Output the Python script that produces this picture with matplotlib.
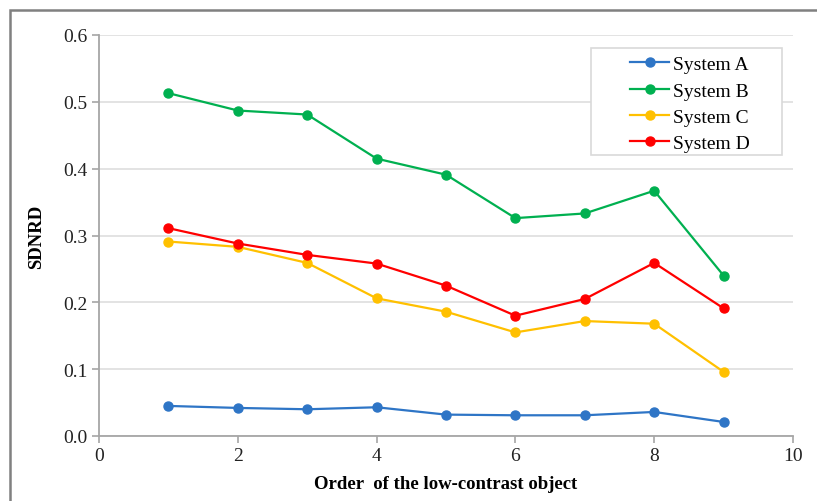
import numpy as np
import matplotlib.pyplot as plt
from matplotlib.patches import Rectangle

plt.rcParams['font.family'] = ['Liberation Serif', 'DejaVu Serif']

# data
order = [1, 2, 3, 4, 5, 6, 7, 8, 9]
system_a = [0.045, 0.042, 0.040, 0.043, 0.032, 0.031, 0.031, 0.036, 0.021]
system_b = [0.513, 0.487, 0.481, 0.415, 0.391, 0.326, 0.333, 0.367, 0.240]
system_c = [0.291, 0.283, 0.259, 0.206, 0.186, 0.155, 0.172, 0.168, 0.096]
system_d = [0.311, 0.288, 0.271, 0.258, 0.225, 0.180, 0.205, 0.259, 0.191]

labels = ['System A', 'System B', 'System C', 'System D']
colors = ['#2E75C6', '#00B050', '#FFC000', '#FF0000']

fig = plt.figure(figsize=(8.17, 5.02), dpi=100)
ax = fig.add_axes([99 / 817, 1 - 437 / 502, 694 / 817, 401 / 502])

for y, lab, c in zip([system_a, system_b, system_c, system_d], labels, colors):
    ax.plot(order, y, color=c, marker='o', markersize=6.5, linewidth=1.6, label=lab)

ax.set_xlim(0, 10)
ax.set_ylim(0, 0.6)
ax.set_xticks(np.arange(0, 11, 2))
ax.set_yticks(np.arange(0, 0.61, 0.1))
ax.set_yticklabels(['%.1f' % v for v in np.arange(0, 0.61, 0.1)])
ax.tick_params(labelsize=14, colors='#222222', length=5, color='#a6a6a6', width=1.2)
ax.tick_params(axis='x', pad=3)
ax.grid(axis='y', color='#e0e0e0', linewidth=1.3)
ax.set_axisbelow(True)
for s in ['top', 'right']:
    ax.spines[s].set_visible(False)
for s in ['left', 'bottom']:
    ax.spines[s].set_color('#a6a6a6')
    ax.spines[s].set_linewidth(1.3)

ax.set_xlabel('Order  of the low-contrast object', fontsize=13.5, fontweight='bold', labelpad=8)
ax.set_ylabel('SDNRD', fontsize=13.5, fontweight='bold', labelpad=13)

# legend box as drawn in the reference
x0, x1 = (591 - 99) / 694, (782 - 99) / 694
y0, y1 = (437 - 156) / 401, (437 - 49) / 401
ax.add_patch(Rectangle((x0, y0), x1 - x0, y1 - y0, transform=ax.transAxes,
                       facecolor='white', edgecolor='#d9d9d9', linewidth=1.2, zorder=4))
leg = ax.legend(loc='center', bbox_to_anchor=((x0 + x1) / 2 + 0.005, (y0 + y1) / 2 - 0.006),
                fontsize=14, frameon=False, handlelength=2.0, handletextpad=0.2,
                labelspacing=0.45)
leg.set_zorder(5)

# outer frame of the picture (left and top edges visible)
fig.patches.append(Rectangle((10 / 817, -0.1), 1.2, 1 - 11 / 502 + 0.1,
                             transform=fig.transFigure, fill=False,
                             edgecolor='#808080', linewidth=1.8))

fig.savefig('out.png', dpi=100)
